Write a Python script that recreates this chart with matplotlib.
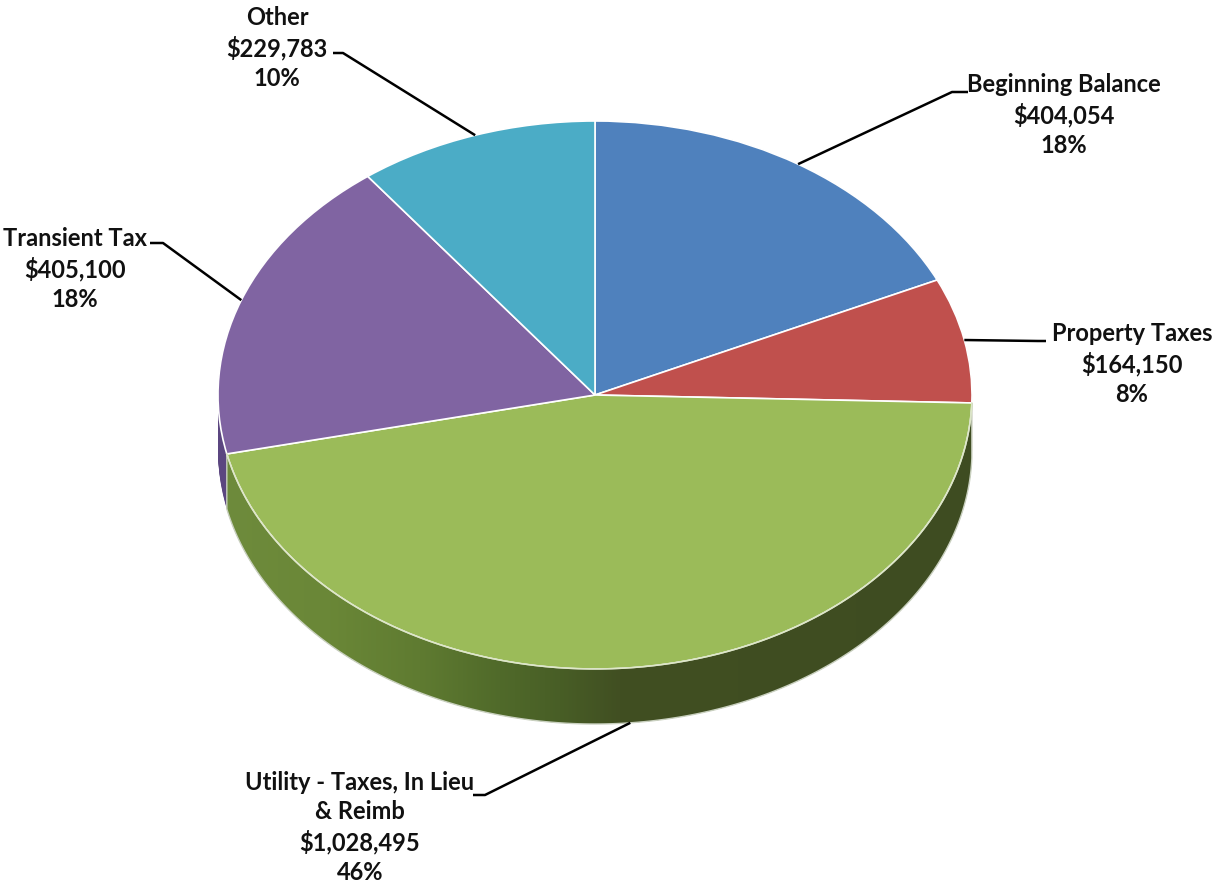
import numpy as np
import matplotlib.pyplot as plt
from matplotlib.patches import Polygon
from matplotlib.colors import to_rgb

# Datos
categorias = ['Beginning Balance', 'Property Taxes',
              'Utility - Taxes, In Lieu\n& Reimb', 'Transient Tax', 'Other']
montos = [404054, 164150, 1028495, 405100, 229783]
montos_txt = ['$404,054', '$164,150', '$1,028,495', '$405,100', '$229,783']
porcentajes = ['18%', '8%', '46%', '18%', '10%']

colores = ['#4f81bd', '#c0504d', '#9bbb59', '#8064a2', '#4bacc6']
colores_lado = ['#2f4f7a', '#7a2f2d', '#4a5f27', '#5b4680', '#2d7488']

# Geometria de la figura (pixeles)
W, H = 1213, 888
cx, cy, rx, ry = 595, 395, 377, 274
prof = 55 / ry   # profundidad del "cilindro" en unidades de datos


def px(x, y):
    # pixel -> coordenadas de datos
    return (x - cx) / rx, (cy - y) / ry


fig = plt.figure(figsize=(W / 100, H / 100), dpi=100)
ax = fig.add_axes([0, 0, 1, 1])

# lateral: pilas de tortas desplazadas hacia abajo
for d in np.linspace(prof, 0, 45):
    ax.pie(montos, colors=colores_lado, startangle=90, counterclock=False,
           center=(0, -d), wedgeprops=dict(linewidth=0))

# tapa
wedges, _ = ax.pie(montos, colors=colores, startangle=90, counterclock=False,
                   wedgeprops=dict(edgecolor='white', linewidth=1.2))

# degradado en el lateral de la porcion verde
w = wedges[2]
t = np.radians(np.linspace(w.theta1, w.theta2, 200))
t = t[np.sin(t) <= 0.02]
arriba = np.column_stack([np.cos(t), np.sin(t)])
abajo = np.column_stack([np.cos(t[::-1]), np.sin(t[::-1]) - prof])
lado = Polygon(np.vstack([arriba, abajo]), closed=True, facecolor='none',
               edgecolor='#c9d0bf', linewidth=1.0, zorder=3)
ax.add_patch(lado)

xs_px = [225, 330, 420, 500, 560, 620, 975]
cols = ['#6e8b3c', '#6a8737', '#5f7b31', '#506a2a', '#485e26', '#414f22', '#3e4c21']
xg = np.linspace(-1, 1, 400)
xg_px = cx + xg * rx
rgb = np.array([to_rgb(c) for c in cols])
grad = np.column_stack([np.interp(xg_px, xs_px, rgb[:, k]) for k in range(3)])
img = np.tile(grad[None, :, :], (10, 1, 1))
im = ax.imshow(img, extent=(-1, 1, -1 - prof, 0), aspect='auto', zorder=2,
               interpolation='bilinear')
im.set_clip_path(lado)

# borde claro de la tapa sobre el lateral
ax.plot(arriba[:, 0], arriba[:, 1], color='#dfe8c8', lw=1.0, zorder=4)

# etiquetas
pos_texto = [(1064, 73), (1132, 322), (360, 771), (75, 227), (277, 6)]
quiebres = [[(968, 92), (952, 92)],
            [(1046, 341), (1038, 341)],
            [(473, 795), (485, 795)],
            [(150, 243), (163, 243)],
            [(333, 53), (343, 53)]]

for i, wd in enumerate(wedges):
    medio = np.radians((wd.theta1 + wd.theta2) / 2)
    bx, by = np.cos(medio), np.sin(medio)
    if by < -0.9:
        by = by - prof   # la linea llega al borde inferior del lateral
    p0 = px(*quiebres[i][0])
    p1 = px(*quiebres[i][1])
    ax.plot([p0[0], p1[0], bx], [p0[1], p1[1], by], color='black', lw=1.8,
            zorder=5, solid_capstyle='butt')
    tx, ty = px(*pos_texto[i])
    ax.text(tx, ty, categorias[i] + '\n' + montos_txt[i] + '\n' + porcentajes[i],
            ha='center', va='top', fontsize=17, fontweight='bold',
            family='Lato', color='#111111', linespacing=1.33, zorder=6)

ax.set_aspect('auto')
ax.set_xlim(px(0, 0)[0], px(W, 0)[0])
ax.set_ylim(px(0, H)[1], px(0, 0)[1])
ax.axis('off')

fig.savefig('out.png', dpi=100, facecolor='white')
